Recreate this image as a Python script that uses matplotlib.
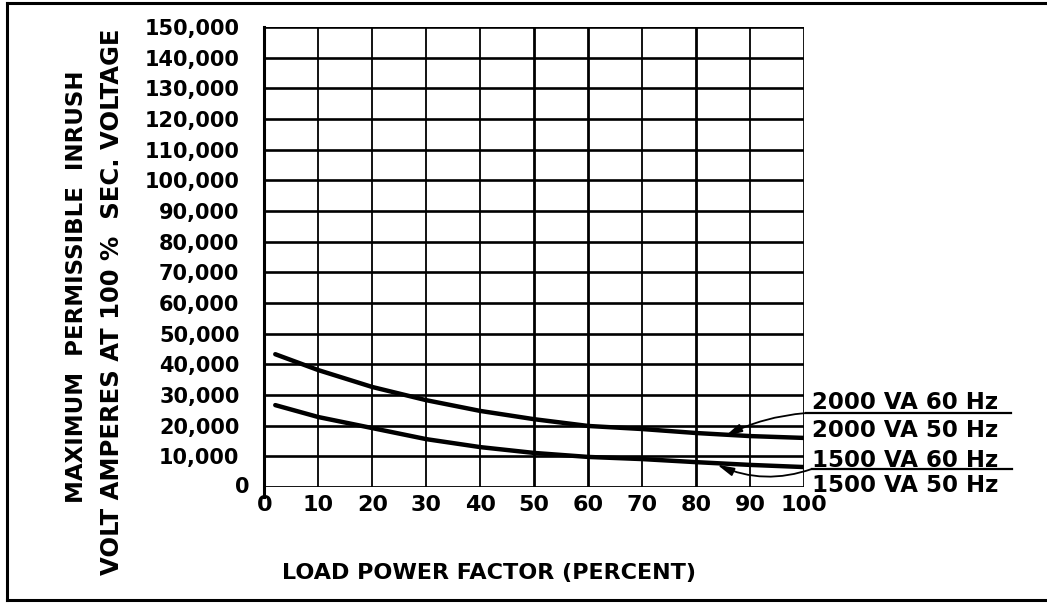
import matplotlib
matplotlib.use("Agg")
import matplotlib.pyplot as plt
from matplotlib.lines import Line2D

# load power factor (percent) and max inrush VA
pf = [2, 10, 20, 30, 40, 50, 60, 70, 80, 90, 100]
va_2000 = [43300, 38100, 32600, 28300, 24800, 22100, 19900, 18900, 17600, 16600, 16000]
va_1500 = [26700, 22800, 19200, 15600, 13000, 11100, 9800, 9100, 8100, 7200, 6500]

x_ticks = [0, 10, 20, 30, 40, 50, 60, 70, 80, 90, 100]
y_ticks = list(range(10000, 150001, 10000))
y_ticklabels = [f"{v:,}" for v in y_ticks]

series_labels = ["2000 VA 60 Hz", "2000 VA 50 Hz", "1500 VA 60 Hz", "1500 VA 50 Hz"]

INK = "black"
FONT = "DejaVu Sans"

fig = plt.figure(figsize=(10.47, 6.03), dpi=100)
ax = fig.add_axes([0.2526, 0.1924, 0.5153, 0.7628])
ax.set_xlim(0, 100)
ax.set_ylim(0, 150000)
for s in ax.spines.values():
    s.set_visible(False)

# grid
for v in y_ticks:
    ax.axhline(v, color=INK, lw=1.9, zorder=1)
ax.axhline(0, color=INK, lw=1.3, zorder=1)
for v in x_ticks[1:]:
    thick = v in (50, 60, 80, 100)
    ax.axvline(v, color=INK, lw=2.0 if thick else 1.3, zorder=1)
ax.plot([0, 0], [-3300, 150000], color=INK, lw=2.2, clip_on=False, zorder=1)

# curves
ax.plot(pf, va_2000, color=INK, lw=3.2, solid_capstyle="round", zorder=3)
ax.plot(pf, va_1500, color=INK, lw=3.2, solid_capstyle="round", zorder=3)

# ticks
ax.set_xticks(x_ticks)
ax.set_xticklabels([str(v) for v in x_ticks])
ax.set_yticks(y_ticks)
ax.set_yticklabels(y_ticklabels)
ax.tick_params(axis="y", length=0, pad=18, labelsize=15)
ax.tick_params(axis="x", length=0, pad=6, labelsize=16)
for lab in ax.get_xticklabels() + ax.get_yticklabels():
    lab.set_fontweight("bold")
    lab.set_family(FONT)
ax.text(-2.7, 0, "0", ha="right", va="center", fontsize=15, fontweight="bold",
        family=FONT, clip_on=False)

# series labels on the right with underlines / arrows
lab_kw = dict(fontsize=16.5, fontweight="bold", family=FONT, ha="left",
              va="baseline", clip_on=False)
ax.text(101.5, 25400, series_labels[0], **lab_kw)
ax.text(101.5, 16300, series_labels[1], **lab_kw)
ax.text(101.5, 6500, series_labels[2], **lab_kw)
ax.text(101.5, -1600, series_labels[3], **lab_kw)
ax.plot([100.3, 138.3], [24100, 24100], color=INK, lw=1.6, clip_on=False)
ax.plot([101.5, 138.6], [5900, 5900], color=INK, lw=1.6, clip_on=False)

arrow = dict(arrowstyle="-|>,head_length=1.0,head_width=0.25", color=INK, lw=1.3,
             shrinkA=0, shrinkB=0)
ax.annotate("", xy=(85.4, 16600), xytext=(100.3, 24100),
            arrowprops=dict(connectionstyle="arc3,rad=0.1", **arrow))
ax.annotate("", xy=(83.9, 7300), xytext=(101.5, 5900),
            arrowprops=dict(connectionstyle="arc3,rad=-0.2", **arrow))

# axis titles
fig.text(0.0735, 0.524, "MAXIMUM  PERMISSIBLE  INRUSH", rotation=90, ha="center",
         va="center", fontsize=16.5, fontweight="bold", family=FONT)
fig.text(0.107, 0.499, "VOLT AMPERES AT 100 %  SEC. VOLTAGE", rotation=90, ha="center",
         va="center", fontsize=17.5, fontweight="bold", family=FONT)
fig.text(0.467, 0.050, "LOAD POWER FACTOR (PERCENT)", ha="center", va="center",
         fontsize=16, fontweight="bold", family=FONT)

# page frame
fig.add_artist(Line2D([0.0067, 0.0067], [0.005, 0.995], color=INK, lw=2.2))
fig.add_artist(Line2D([0.0067, 1.0], [0.995, 0.995], color=INK, lw=2.2))
fig.add_artist(Line2D([0.0067, 1.0], [0.005, 0.005], color=INK, lw=2.2))

fig.savefig("out.png", dpi=100, facecolor="white")
